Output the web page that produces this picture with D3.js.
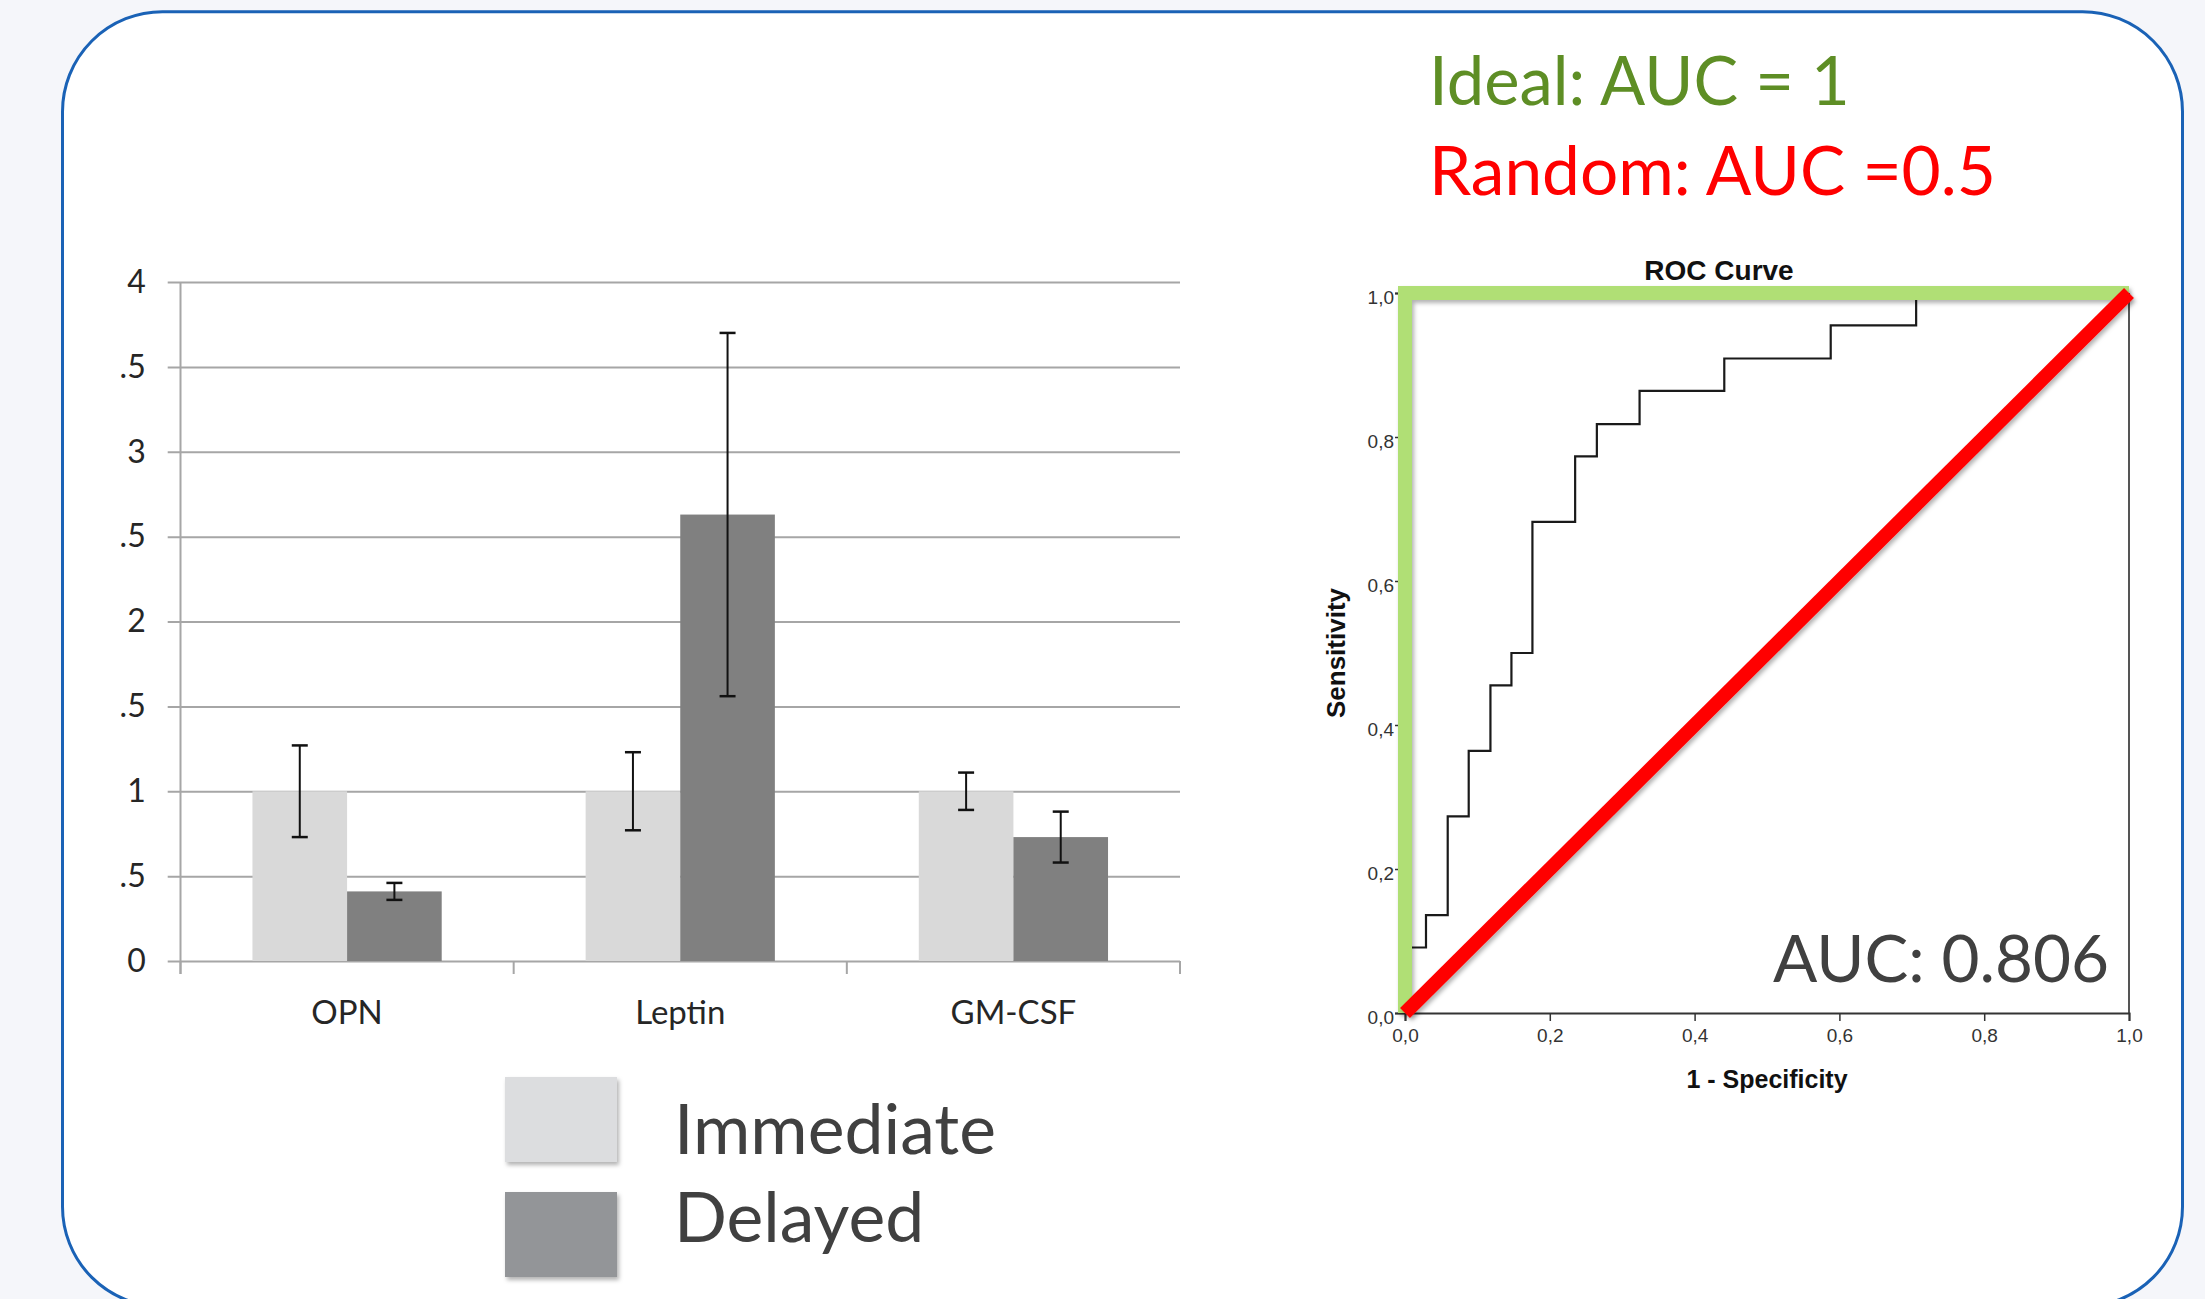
<!DOCTYPE html>
<html><head><meta charset="utf-8">
<script src="https://cdn.jsdelivr.net/npm/d3@7"></script>
<style>
html,body{margin:0;padding:0;background:#f5f6fa;}
svg{display:block;}
</style></head><body>
<svg id="c" width="2205" height="1299"></svg>
<script>
// ---------- data ----------
const categories = ["OPN", "Leptin", "GM-CSF"];
const seriesNames = ["Immediate", "Delayed"];
const immediateValues = [1.00, 1.00, 1.00];
const delayedValues = [0.41, 2.63, 0.73];
const immediateErrors = [0.27, 0.23, 0.11];
const delayedErrors = [0.05, 1.07, 0.15];
const barTicks = [0, 0.5, 1, 1.5, 2, 2.5, 3, 3.5, 4];
const barTickLabels = ["0", ".5", "1", ".5", "2", ".5", "3", ".5", "4"];

const rocFpr = [0, 0, 0.029, 0.059, 0.088, 0.118, 0.147, 0.176, 0.235, 0.265, 0.324, 0.441, 0.588, 0.706, 1];
const rocTpr = [0, 0.091, 0.136, 0.273, 0.364, 0.455, 0.500, 0.682, 0.773, 0.818, 0.864, 0.909, 0.955, 1, 1];
const idealFpr = [0, 0, 1];
const idealTpr = [0, 1, 1];
const randomFpr = [0, 1];
const randomTpr = [0, 1];
const rocTicks = [0, 0.2, 0.4, 0.6, 0.8, 1];
const rocTickLabels = ["0,0", "0,2", "0,4", "0,6", "0,8", "1,0"];
const rocTitle = "ROC Curve";
const rocXTitle = "1 - Specificity";
const rocYTitle = "Sensitivity";
const aucLabel = "AUC: 0.806";
const headerLines = ["Ideal: AUC = 1", "Random: AUC =0.5"];

// ---------- setup ----------
const svg = d3.select("#c");
const defs = svg.append("defs");
const f = defs.append("filter").attr("id", "sh").attr("x", "-20%").attr("y", "-20%").attr("width", "140%").attr("height", "140%");
f.append("feDropShadow").attr("dx", 2).attr("dy", 3).attr("stdDeviation", 2)
  .attr("flood-color", "#000").attr("flood-opacity", 0.3);

const CAL = "Lato, 'Open Sans', sans-serif";
const ARL = "'Liberation Sans', Arial, sans-serif";

function fitWidth(sel, w) {
  const n = sel.node();
  const cur = n.getComputedTextLength();
  const fs = parseFloat(sel.attr("font-size"));
  if (cur > 0) sel.attr("font-size", (fs * w / cur).toFixed(2));
  return sel;
}

svg.append("rect").attr("width", 2205).attr("height", 1299).attr("fill", "#f5f6fa");
svg.append("rect").attr("x", 62.5).attr("y", 11.7).attr("width", 2120).attr("height", 1295)
  .attr("rx", 100).attr("ry", 100).attr("fill", "#ffffff").attr("stroke", "#1a62b6").attr("stroke-width", 3);

// ---------- bar chart ----------
const plotL = 180.5, plotR = 1180, gridL = 167.7;
const x0 = d3.scaleBand().domain(categories).range([plotL, plotR]).paddingInner(0.432).paddingOuter(0.216);
const x1 = d3.scaleBand().domain(seriesNames).range([0, x0.bandwidth()]);
const y = d3.scaleLinear().domain([0, 4]).range([961, 282]);
const barColors = {Immediate: "#d9d9d9", Delayed: "#808080"};
const legendColors = {Immediate: "#dcdddf", Delayed: "#939598"};

const grid = svg.append("g").attr("transform", `translate(${gridL},0)`)
  .call(d3.axisLeft(y).tickValues(barTicks).tickSize(-(plotR - gridL)).tickPadding(22)
    .tickFormat((d, i) => barTickLabels[i]));
grid.select(".domain").remove();
grid.selectAll(".tick line").attr("stroke", "#a6a6a6").attr("stroke-width", 2);
grid.selectAll(".tick text").attr("font-family", CAL).attr("font-size", 32).attr("fill", "#262626");

svg.append("line").attr("x1", plotL).attr("x2", plotL).attr("y1", y(4)).attr("y2", y(0) + 13)
  .attr("stroke", "#a6a6a6").attr("stroke-width", 2);
const step = x0.step(), outerOff = (step - x0.bandwidth()) / 2;
const bounds = categories.map(c => x0(c) - outerOff).concat([x0(categories[categories.length - 1]) - outerOff + step]);
svg.selectAll("line.cb").data(bounds).join("line").attr("class", "cb")
  .attr("x1", d => d).attr("x2", d => d).attr("y1", y(0)).attr("y2", y(0) + 13)
  .attr("stroke", "#a6a6a6").attr("stroke-width", 2);

const barData = [];
categories.forEach((c, i) => {
  barData.push({cat: c, s: "Immediate", v: immediateValues[i], e: immediateErrors[i]});
  barData.push({cat: c, s: "Delayed", v: delayedValues[i], e: delayedErrors[i]});
});
svg.selectAll("rect.bar").data(barData).join("rect").attr("class", "bar")
  .attr("x", d => x0(d.cat) + x1(d.s)).attr("width", x1.bandwidth())
  .attr("y", d => y(d.v)).attr("height", d => y(0) - y(d.v))
  .attr("fill", d => barColors[d.s]);

const eb = svg.selectAll("g.eb").data(barData).join("g").attr("class", "eb")
  .attr("transform", d => `translate(${x0(d.cat) + x1(d.s) + x1.bandwidth() / 2},0)`);
eb.append("line").attr("y1", d => y(d.v - d.e)).attr("y2", d => y(d.v + d.e)).attr("stroke", "#111").attr("stroke-width", 2);
eb.append("line").attr("x1", -8).attr("x2", 8).attr("y1", d => y(d.v + d.e)).attr("y2", d => y(d.v + d.e)).attr("stroke", "#111").attr("stroke-width", 2.5);
eb.append("line").attr("x1", -8).attr("x2", 8).attr("y1", d => y(d.v - d.e)).attr("y2", d => y(d.v - d.e)).attr("stroke", "#111").attr("stroke-width", 2.5);

svg.selectAll("text.cat").data(categories).join("text").attr("class", "cat")
  .attr("x", d => x0(d) + x0.bandwidth() / 2).attr("y", 1024)
  .attr("text-anchor", "middle").attr("font-family", CAL).attr("font-size", 33).attr("fill", "#262626")
  .text(d => d);

// legend
const legRectY = [1077, 1192];
const legTextY = [1154, 1242];
const legTexts = [];
seriesNames.forEach((s, i) => {
  svg.append("rect").attr("x", 505).attr("y", legRectY[i]).attr("width", 112).attr("height", 85)
    .attr("fill", legendColors[s]).attr("filter", "url(#sh)");
  legTexts.push(svg.append("text").attr("x", 674).attr("y", legTextY[i])
    .attr("font-family", CAL).attr("font-size", 66).attr("fill", "#404040").text(s));
});
fitWidth(legTexts[0], 322);
legTexts[1].attr("font-size", legTexts[0].attr("font-size"));

// ---------- header ----------
const h1 = svg.append("text").attr("x", 1429).attr("y", 105).attr("font-family", CAL).attr("font-size", 64)
  .attr("fill", "#5e8e25").text(headerLines[0]);
fitWidth(h1, 421);
const h2 = svg.append("text").attr("x", 1429).attr("y", 195).attr("font-family", CAL).attr("font-size", 64)
  .attr("fill", "#ff0000").text(headerLines[1]);
fitWidth(h2, 567);

// ---------- ROC ----------
const rx = d3.scaleLinear().domain([0, 1]).range([1405, 2129]);
const ry = d3.scaleLinear().domain([0, 1]).range([1013, 293]);

svg.append("line").attr("x1", rx(0)).attr("x2", rx(1)).attr("y1", ry(1)).attr("y2", ry(1)).attr("stroke", "#555").attr("stroke-width", 2);
svg.append("line").attr("x1", rx(1)).attr("x2", rx(1)).attr("y1", ry(1)).attr("y2", ry(0)).attr("stroke", "#555").attr("stroke-width", 2);

const xa = svg.append("g").attr("transform", `translate(0,${ry(0)})`)
  .call(d3.axisBottom(rx).tickValues(rocTicks).tickSize(8).tickPadding(8).tickFormat((d, i) => rocTickLabels[i]));
xa.select(".domain").attr("stroke", "#333").attr("stroke-width", 2);
xa.selectAll(".tick line").attr("stroke", "#333").attr("stroke-width", 1.5);
xa.selectAll(".tick text").attr("font-family", ARL).attr("font-size", 19).attr("fill", "#333");

const ya = svg.append("g").attr("transform", `translate(${rx(0)},0)`)
  .call(d3.axisLeft(ry).tickValues(rocTicks).tickSize(10).tickPadding(1).tickFormat((d, i) => rocTickLabels[i]));
ya.select(".domain").attr("stroke", "#333").attr("stroke-width", 2);
ya.selectAll(".tick line").attr("stroke", "#333").attr("stroke-width", 1.5);
ya.selectAll(".tick text").attr("font-family", ARL).attr("font-size", 19).attr("fill", "#333").attr("dy", "0.55em");

svg.append("text").attr("x", 1719).attr("y", 280).attr("text-anchor", "middle")
  .attr("font-family", ARL).attr("font-weight", "bold").attr("font-size", 28).attr("fill", "#111").text(rocTitle);
svg.append("text").attr("x", rx(0.5)).attr("y", 1088).attr("text-anchor", "middle")
  .attr("font-family", ARL).attr("font-weight", "bold").attr("font-size", 25).attr("fill", "#111").text(rocXTitle);
svg.append("text").attr("transform", `translate(1345,${ry(0.5)}) rotate(-90)`).attr("text-anchor", "middle")
  .attr("font-family", ARL).attr("font-weight", "bold").attr("font-size", 26).attr("fill", "#111").text(rocYTitle);

const lineGen = d3.line().x(d => rx(d[0])).y(d => ry(d[1])).curve(d3.curveStepAfter);
svg.append("path").datum(d3.zip(rocFpr, rocTpr))
  .attr("d", lineGen).attr("fill", "none").attr("stroke", "#1a1a1a").attr("stroke-width", 2.2);

const straight = d3.line().x(d => rx(d[0])).y(d => ry(d[1]));
svg.append("path").datum(d3.zip(idealFpr, idealTpr)).attr("d", straight)
  .attr("fill", "none").attr("stroke", "#b0df74").attr("stroke-width", 14)
  .attr("stroke-linejoin", "miter").attr("filter", "url(#sh)");
svg.append("path").datum(d3.zip(randomFpr, randomTpr)).attr("d", straight)
  .attr("fill", "none").attr("stroke", "#ff0000").attr("stroke-width", 14).attr("filter", "url(#sh)");

const auc = svg.append("text").attr("x", 2109).attr("y", 982).attr("text-anchor", "end")
  .attr("font-family", CAL).attr("font-size", 64).attr("fill", "#404040").text(aucLabel);
fitWidth(auc, 336);
</script>
</body></html>
